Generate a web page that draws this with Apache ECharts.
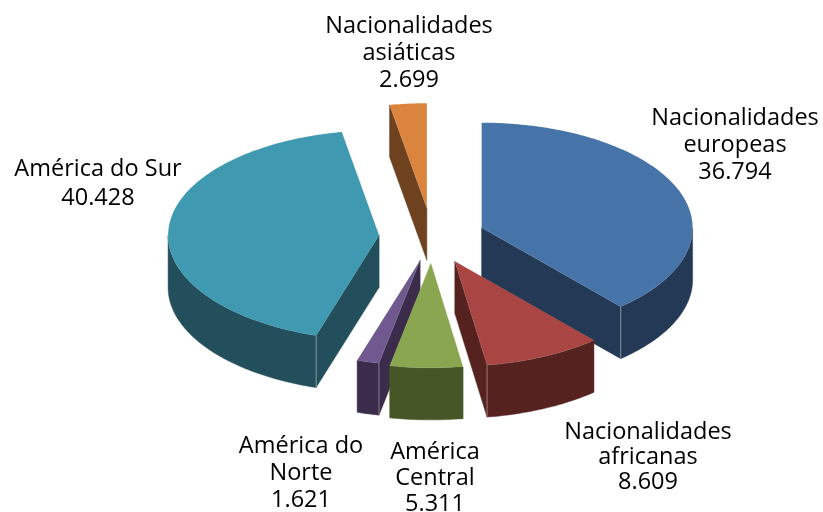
<!DOCTYPE html>
<html><head><meta charset="utf-8">
<style>html,body{margin:0;padding:0;background:#fff}#c{width:823px;height:512px}</style>
<script src="https://cdn.jsdelivr.net/npm/echarts@6/dist/echarts.min.js"></script>
</head><body><div id="c"></div>
<script>
// Data
const categories = ['Nacionalidades\neuropeas','Nacionalidades\nafricanas','América\nCentral','América do\nNorte','América do Sur','Nacionalidades\nasiáticas'];
const values = [36794, 8609, 5311, 1621, 40428, 2699];
const topColors = ['#4674A8','#A94643','#8BA651','#70598F','#3F99B1','#DB843D'];
const sideColors = ['#233955','#562220','#475626','#3B2C4B','#224F5B','#6E421F'];
// Layout
const center = [432, 237], rx = 211, ry = 105, depth = 52;
const explode = [53, 54, 52, 48, 53, 58];
const labelAnchors = [[735,145],[648,457],[435,478],[301,473],[98,184],[409,53]];
const lineHeights = [27,25,26,27,29,27];
const paintOrder = [1, 3, 5, 4, 1, 0]; // back-to-front rank per slice

const total = values.reduce((a,b)=>a+b,0);
const fmt = v => String(v).replace(/\B(?=(\d{3})(?!\d))/g,'.');
const rad = d => d*Math.PI/180;
const dir = d => [Math.sin(rad(d))*rx, -Math.cos(rad(d))*ry];

const startAngles = []; values.reduce((acc,v,i)=>{startAngles[i]=acc; return acc+v/total*360;},0);

function renderItem(params, api){
  const i = params.dataIndex, v = api.value(1);
  const a0 = startAngles[i], a1 = a0 + v/total*360, mid=(a0+a1)/2;
  const ax = center[0] + explode[i]*Math.sin(rad(mid));
  const ay = center[1] - explode[i]*Math.cos(rad(mid))*ry/rx;
  const P = d => { const q = dir(d); return [ax+q[0], ay+q[1]]; };
  const down = p => [p[0], p[1]+depth];
  const kids = [];
  const z = paintOrder[i]*10;
  const arc = (s,e) => { const out=[]; const n=Math.max(2,Math.ceil((e-s)/1)); for(let k=0;k<=n;k++) out.push(P(s+(e-s)*k/n)); return out; };
  const side = pts => kids.push({type:'polygon',z2:z,shape:{points:pts},style:{fill:sideColors[i],stroke:sideColors[i],lineWidth:0.5}});
  const apex=[ax,ay];
  if(a0>180 && a0<360){ const p=P(a0); side([apex,p,down(p),down(apex)]); }
  if(a1>0 && a1<180){ const p=P(a1); side([apex,p,down(p),down(apex)]); }
  const r0=Math.max(a0,90), r1=Math.min(a1,270);
  if(r1>r0){ const t=arc(r0,r1); side(t.concat(t.map(down).reverse())); }
  // vertical highlight at the visible corner
  const edge = (a0>180&&a0<270)?a0:((a1>90&&a1<180)?a1:null);
  if(edge!==null){ const p=P(edge), q=down(p);
    kids.push({type:'line',z2:z+1,shape:{x1:p[0],y1:p[1],x2:q[0],y2:q[1]},style:{stroke:'rgba(255,255,255,0.4)',lineWidth:1}}); }
  // top face
  kids.push({type:'polygon',z2:z+2,shape:{points:[apex].concat(arc(a0,a1))},style:{fill:topColors[i],stroke:'rgba(255,255,255,0.12)',lineWidth:0.6}});
  // label
  const la = labelAnchors[i];
  kids.push({type:'text',z2:100,x:la[0],y:la[1],style:{text:categories[i]+'\n'+fmt(v),fill:'#000',font:'400 23.5px "Open Sans"',textAlign:'center',textVerticalAlign:'middle',lineHeight:lineHeights[i]}});
  return {type:'group',children:kids};
}

const chart = echarts.init(document.getElementById('c'),null,{renderer:'canvas'});
chart.setOption({
  animation:false,
  backgroundColor:'#fff',
  series:[{type:'custom',coordinateSystem:'none',renderItem,silent:true,
    data:categories.map((c,i)=>({name:c,value:[i,values[i]]}))}]
});
</script></body></html>
